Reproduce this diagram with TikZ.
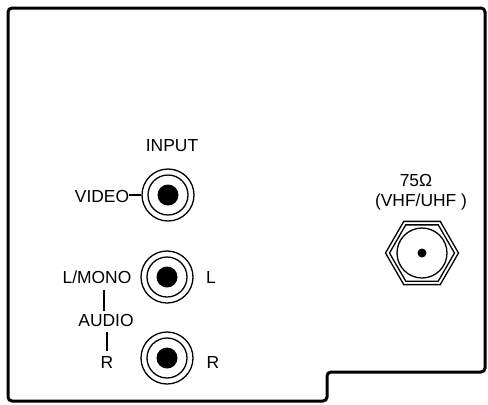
\documentclass[tikz,border=0pt]{standalone}
\usepackage{fontspec}
\setmainfont{Liberation Sans}
\usetikzlibrary{shapes.geometric,calc}
\begin{document}
\begin{tikzpicture}[x=1bp,y=-1bp,
  lbl/.style={inner sep=0pt, font=\fontsize{17.5}{18}\selectfont},
  jack/.style={circle, draw, line width=1.3bp, minimum size=52bp, inner sep=0pt},
  ring/.style={draw, line width=1.3bp},
  conn/.style={line width=1.3bp},
  hexnut/.style={regular polygon, regular polygon sides=6, draw, line width=1.3bp, inner sep=0pt, outer sep=0pt}]
\useasboundingbox (0,0) rectangle (488,404);
% panel outline
\draw[line width=3bp, rounded corners=4bp] (8,8) -- (485,8) -- (485,372) -- (327,372) -- (327,401) -- (8,401) -- cycle;
% RCA jacks
\node[jack] (vjack) at (168,195) {};
\node[jack] (ljack) at (167,277) {};
\node[jack] (rjack) at (167,358) {};
\foreach \j in {vjack,ljack,rjack}{
  \draw[ring] (\j) circle[radius=20];
  \fill (\j) circle[radius=10.5];
}
% labels
\node[lbl] (input) at (172,146) {INPUT};
\node[lbl] (video) at (102,196) {VIDEO};
\node[lbl] (lmono) at (97,277) {L/MONO};
\node[lbl] (lright) at (211,277) {L};
\node[lbl] (audio) at (106,320) {AUDIO};
\node[lbl] (rleft) at (107,362) {R};
\node[lbl] (rright) at (213,362) {R};
\node[lbl] (ohm) at (416,180.5) {75Ω};
\node[lbl] (band) at (421,201.5) {(VHF/UHF )};
% connectors
\draw[conn] (video.east |- vjack) -- (vjack.west);
\draw[conn] ($(lmono.south)+(7,6)$) -- ($(audio.north)+(-2,-3)$);
\draw[conn] ($(audio.south)+(1,6)$) -- ($(rleft.north)+(0,-5)$);
% antenna connector
\node[hexnut, minimum size=73bp] (ant) at (422,253) {};
\node[hexnut, minimum size=65bp] (antin) at (422,253) {};
\draw[ring] (ant) circle[radius=25];
\fill (ant) circle[radius=4.5];
\end{tikzpicture}
\end{document}
